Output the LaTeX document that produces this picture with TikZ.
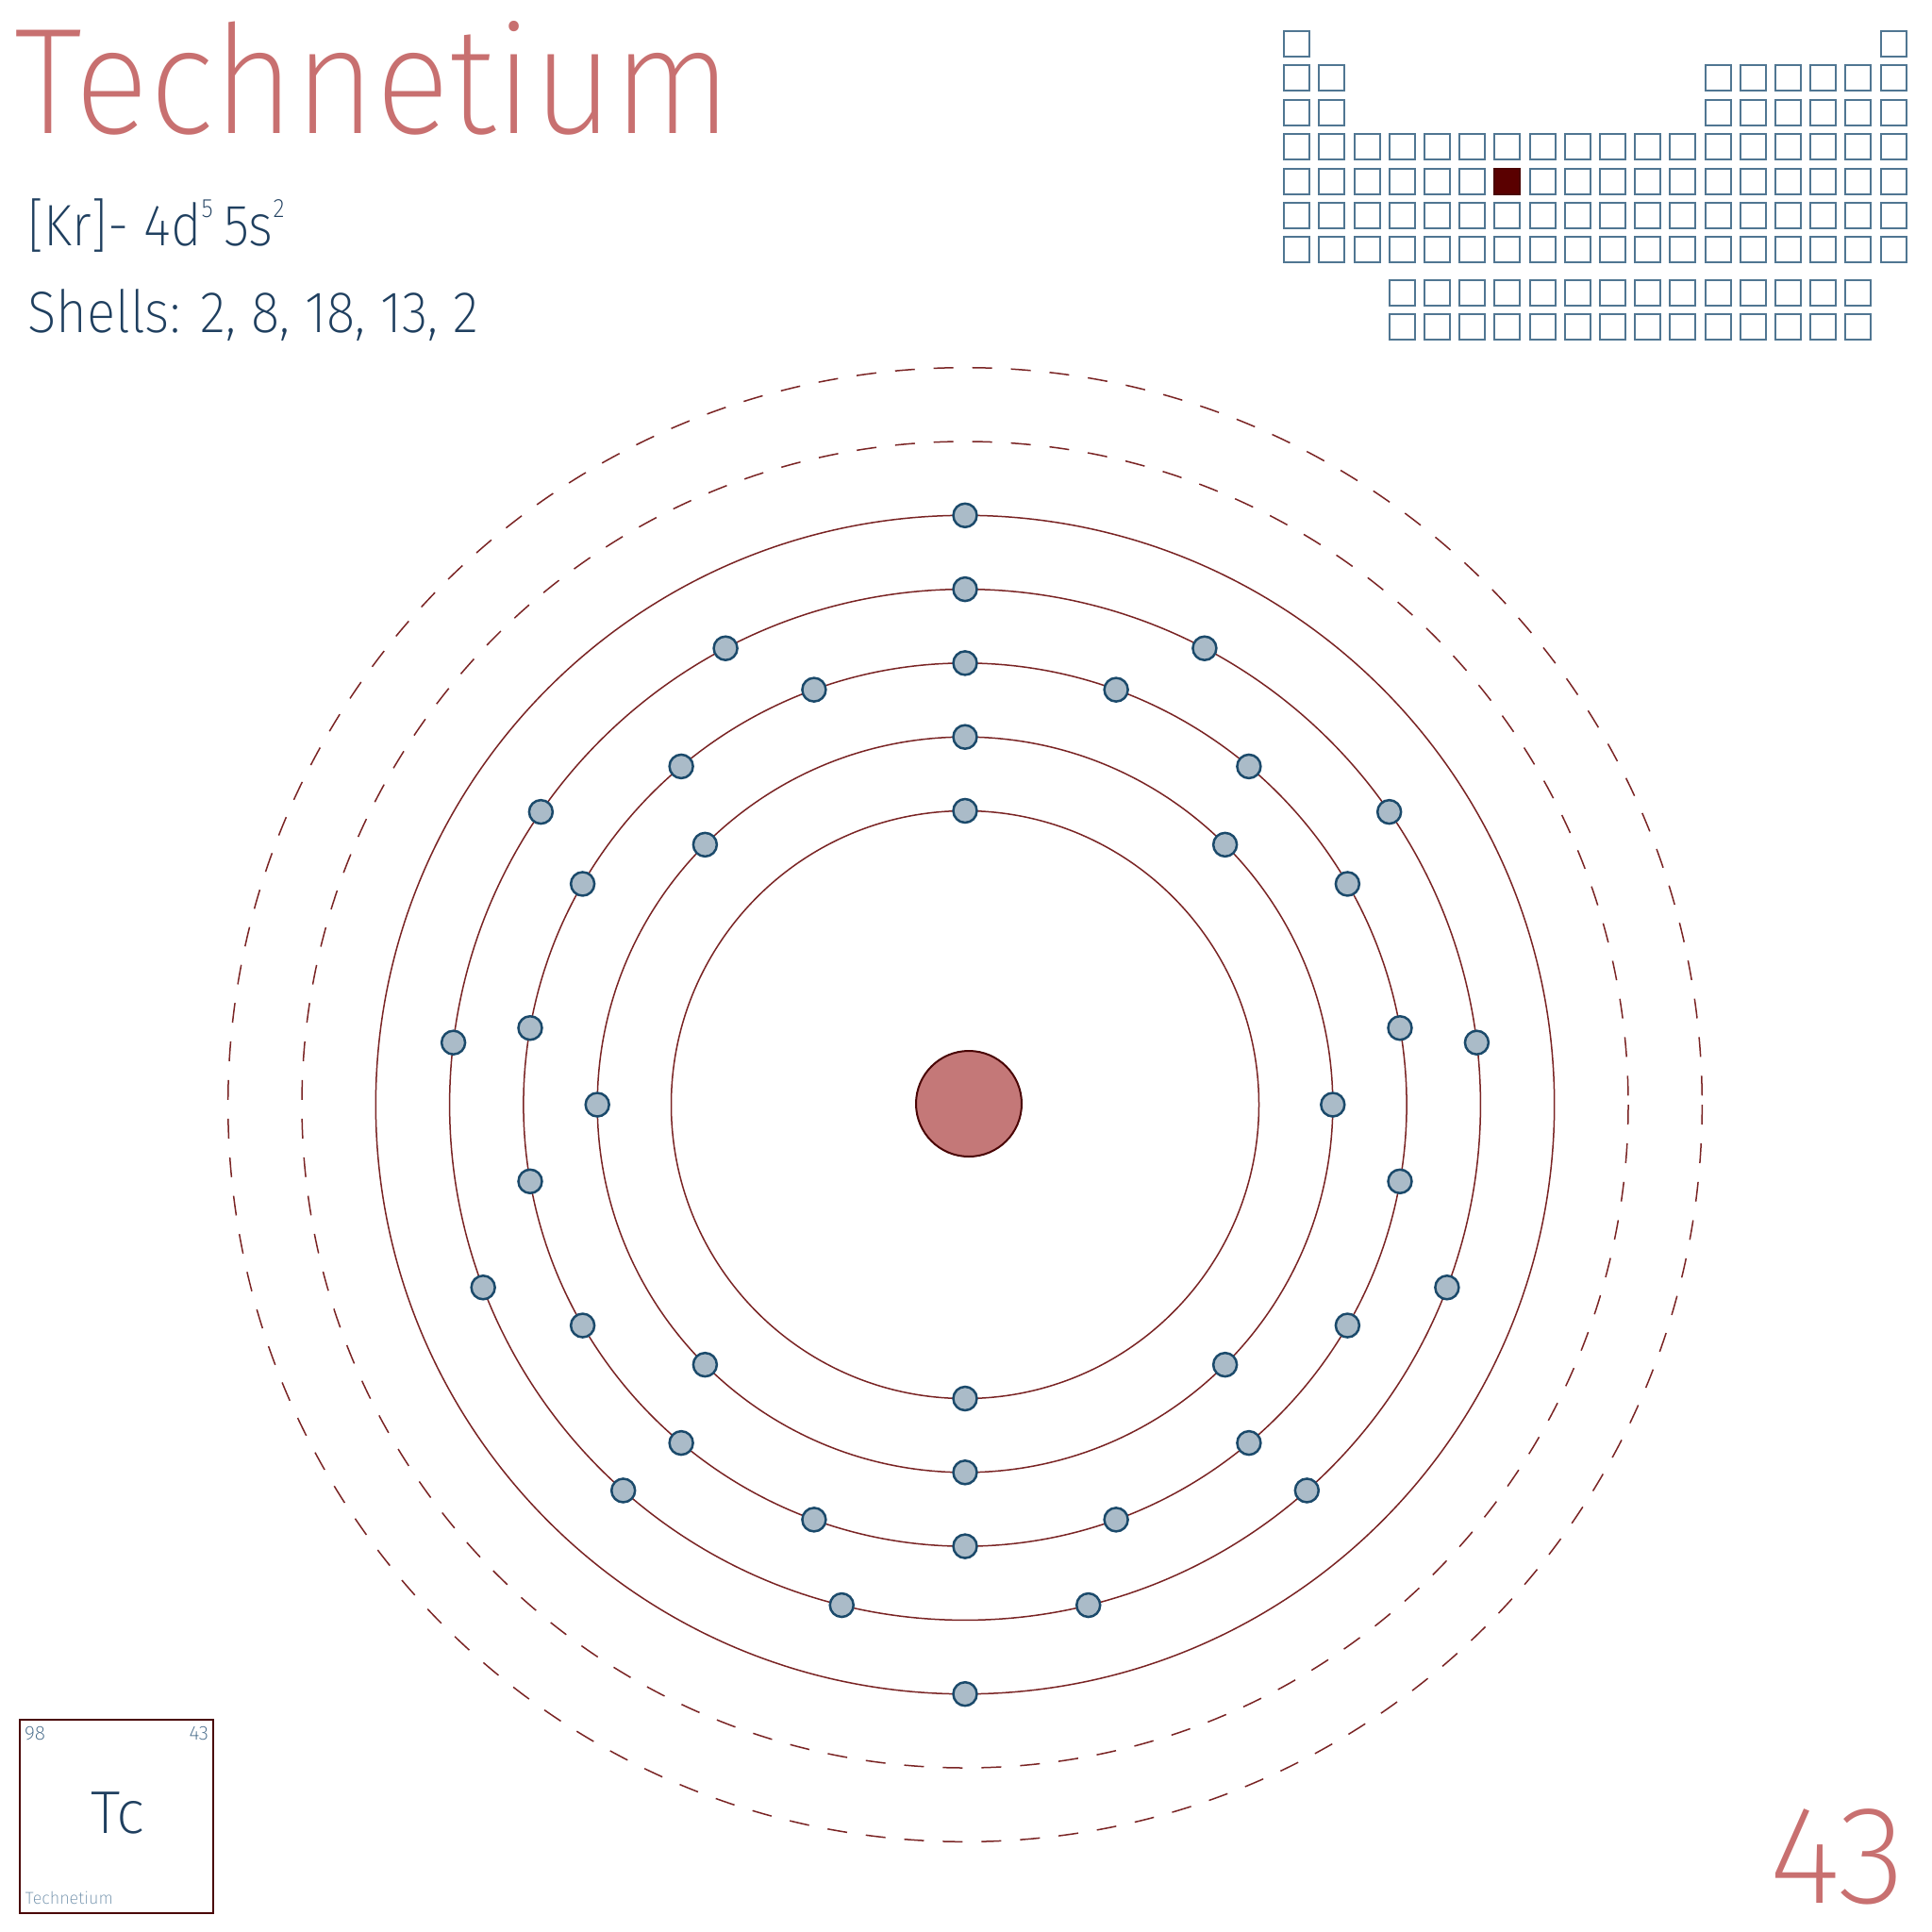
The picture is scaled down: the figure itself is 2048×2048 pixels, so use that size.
\documentclass[tikz,border=0pt]{standalone}
\usepackage{fontspec}
\newfontfamily\lightfont{Fira Sans ExtraLight}
\definecolor{rose}{RGB}{200,112,112}
\definecolor{navy}{RGB}{31,63,95}
\definecolor{orbit}{RGB}{122,36,36}
\definecolor{cellc}{RGB}{80,118,146}
\definecolor{elfill}{RGB}{170,187,200}
\definecolor{eldraw}{RGB}{27,74,107}
\definecolor{nucfill}{RGB}{196,120,120}
\definecolor{nucdraw}{RGB}{74,5,5}
\definecolor{hilite}{RGB}{90,0,0}
\definecolor{smallblue}{RGB}{63,101,133}
\definecolor{paleblue}{RGB}{112,144,170}
\newcommand{\supr}[1]{\raisebox{30pt}{\fontsize{28}{28}\selectfont #1}}
\begin{document}
\begin{tikzpicture}[x=1pt,y=-1pt,
  every node/.style={inner sep=0pt,outer sep=0pt},
  orbitline/.style={draw=orbit,line width=1.5pt},
  orbitdash/.style={draw=orbit,line width=1.5pt,dash pattern=on 21pt off 20pt},
  electron/.style={circle,fill=elfill,draw=eldraw,line width=2.5pt,minimum size=25pt},
  pcell/.style={draw=cellc,line width=2pt,fill=white,minimum width=27pt,minimum height=27pt},
  pcellhi/.style={draw=nucdraw,line width=2pt,fill=hilite,minimum width=27pt,minimum height=27pt},
  txt/.style={font=\lightfont,anchor=base west}]
\useasboundingbox (0,0) rectangle (2048,2048);
% title block
\node[txt,text=rose,font=\lightfont\fontsize{160}{160}\selectfont] (title) at (16,141) {\scalebox{0.92}[1]{Technetium}};
\node[txt,text=navy,font=\lightfont\fontsize{62}{62}\selectfont] (config) at (29,260) {\scalebox{0.9}[1]{[Kr]- 4d\supr{5}\hspace{13pt}5s\supr{2}}};
\node[txt,text=navy,font=\lightfont\fontsize{62}{62}\selectfont] (shells) at (29,352) {\scalebox{0.91}[1]{Shells: 2, 8, 18, 13, 2}};
% periodic table
\def\px#1{1374.75+37.2*(#1-1)}
\foreach \c in {1,18} {\node[pcell] (p1-\c) at ({\px{\c}},46.5) {};}
\foreach \r in {2,3} {
  \foreach \c in {1,2,13,14,15,16,17,18} {\node[pcell] (p\r-\c) at ({\px{\c}},{46.5+36.4*(\r-1)}) {};}
}
\foreach \r in {4,5,6,7} {
  \foreach \c in {1,...,18} {\node[pcell] (p\r-\c) at ({\px{\c}},{46.5+36.4*(\r-1)}) {};}
}
\node[pcellhi] (p5-7h) at ({\px{7}},{46.5+36.4*4}) {};
\foreach \r/\y in {8/310.3,9/346.6} {
  \foreach \c in {4,...,17} {\node[pcell] (p\r-\c) at ({\px{\c}},\y) {};}
}
% orbits
\coordinate (ctr) at (1023,1171);
\foreach \rad in {311.5,389.8,468.1,546.4,624.7} {\draw[orbitline] (ctr) circle[radius=\rad];}
\foreach \rad in {703,781.3} {\draw[orbitdash] (ctr) circle[radius=\rad];}
% nucleus
\node[circle,fill=nucfill,draw=nucdraw,line width=2pt,minimum size=112pt] (nucleus) at (1027,1170) {};
% electrons
\foreach \s/\n/\rad in {1/2/311.5,2/8/389.8,3/18/468.1,4/13/546.4,5/2/624.7} {
  \foreach \i in {1,...,\n} {
    \node[electron] (e\s-\i) at ({1023+\rad*sin(360*(\i-1)/\n)},{1171-\rad*cos(360*(\i-1)/\n)}) {};
  }
}
% element box
\node[draw=nucdraw,line width=2pt,minimum width=205pt,minimum height=205pt] (box) at (123.2,1925.2) {};
\node[txt,text=smallblue,font=\lightfont\fontsize{21}{21}\selectfont] (mass) at (26,1844) {98};
\node[anchor=base east,text=smallblue,font=\lightfont\fontsize{21}{21}\selectfont] (num) at (221,1844) {43};
\node[anchor=base,text=navy,font=\lightfont\fontsize{64}{64}\selectfont] (sym) at (125,1943) {Tc};
\node[txt,text=paleblue,font=\lightfont\fontsize{18}{18}\selectfont] (name) at (27,2018) {Technetium};
% big atomic number
\node[anchor=base east,text=rose,font=\lightfont\fontsize{148}{148}\selectfont] (bignum) at (2020,2017) {43};
\end{tikzpicture}
\end{document}
